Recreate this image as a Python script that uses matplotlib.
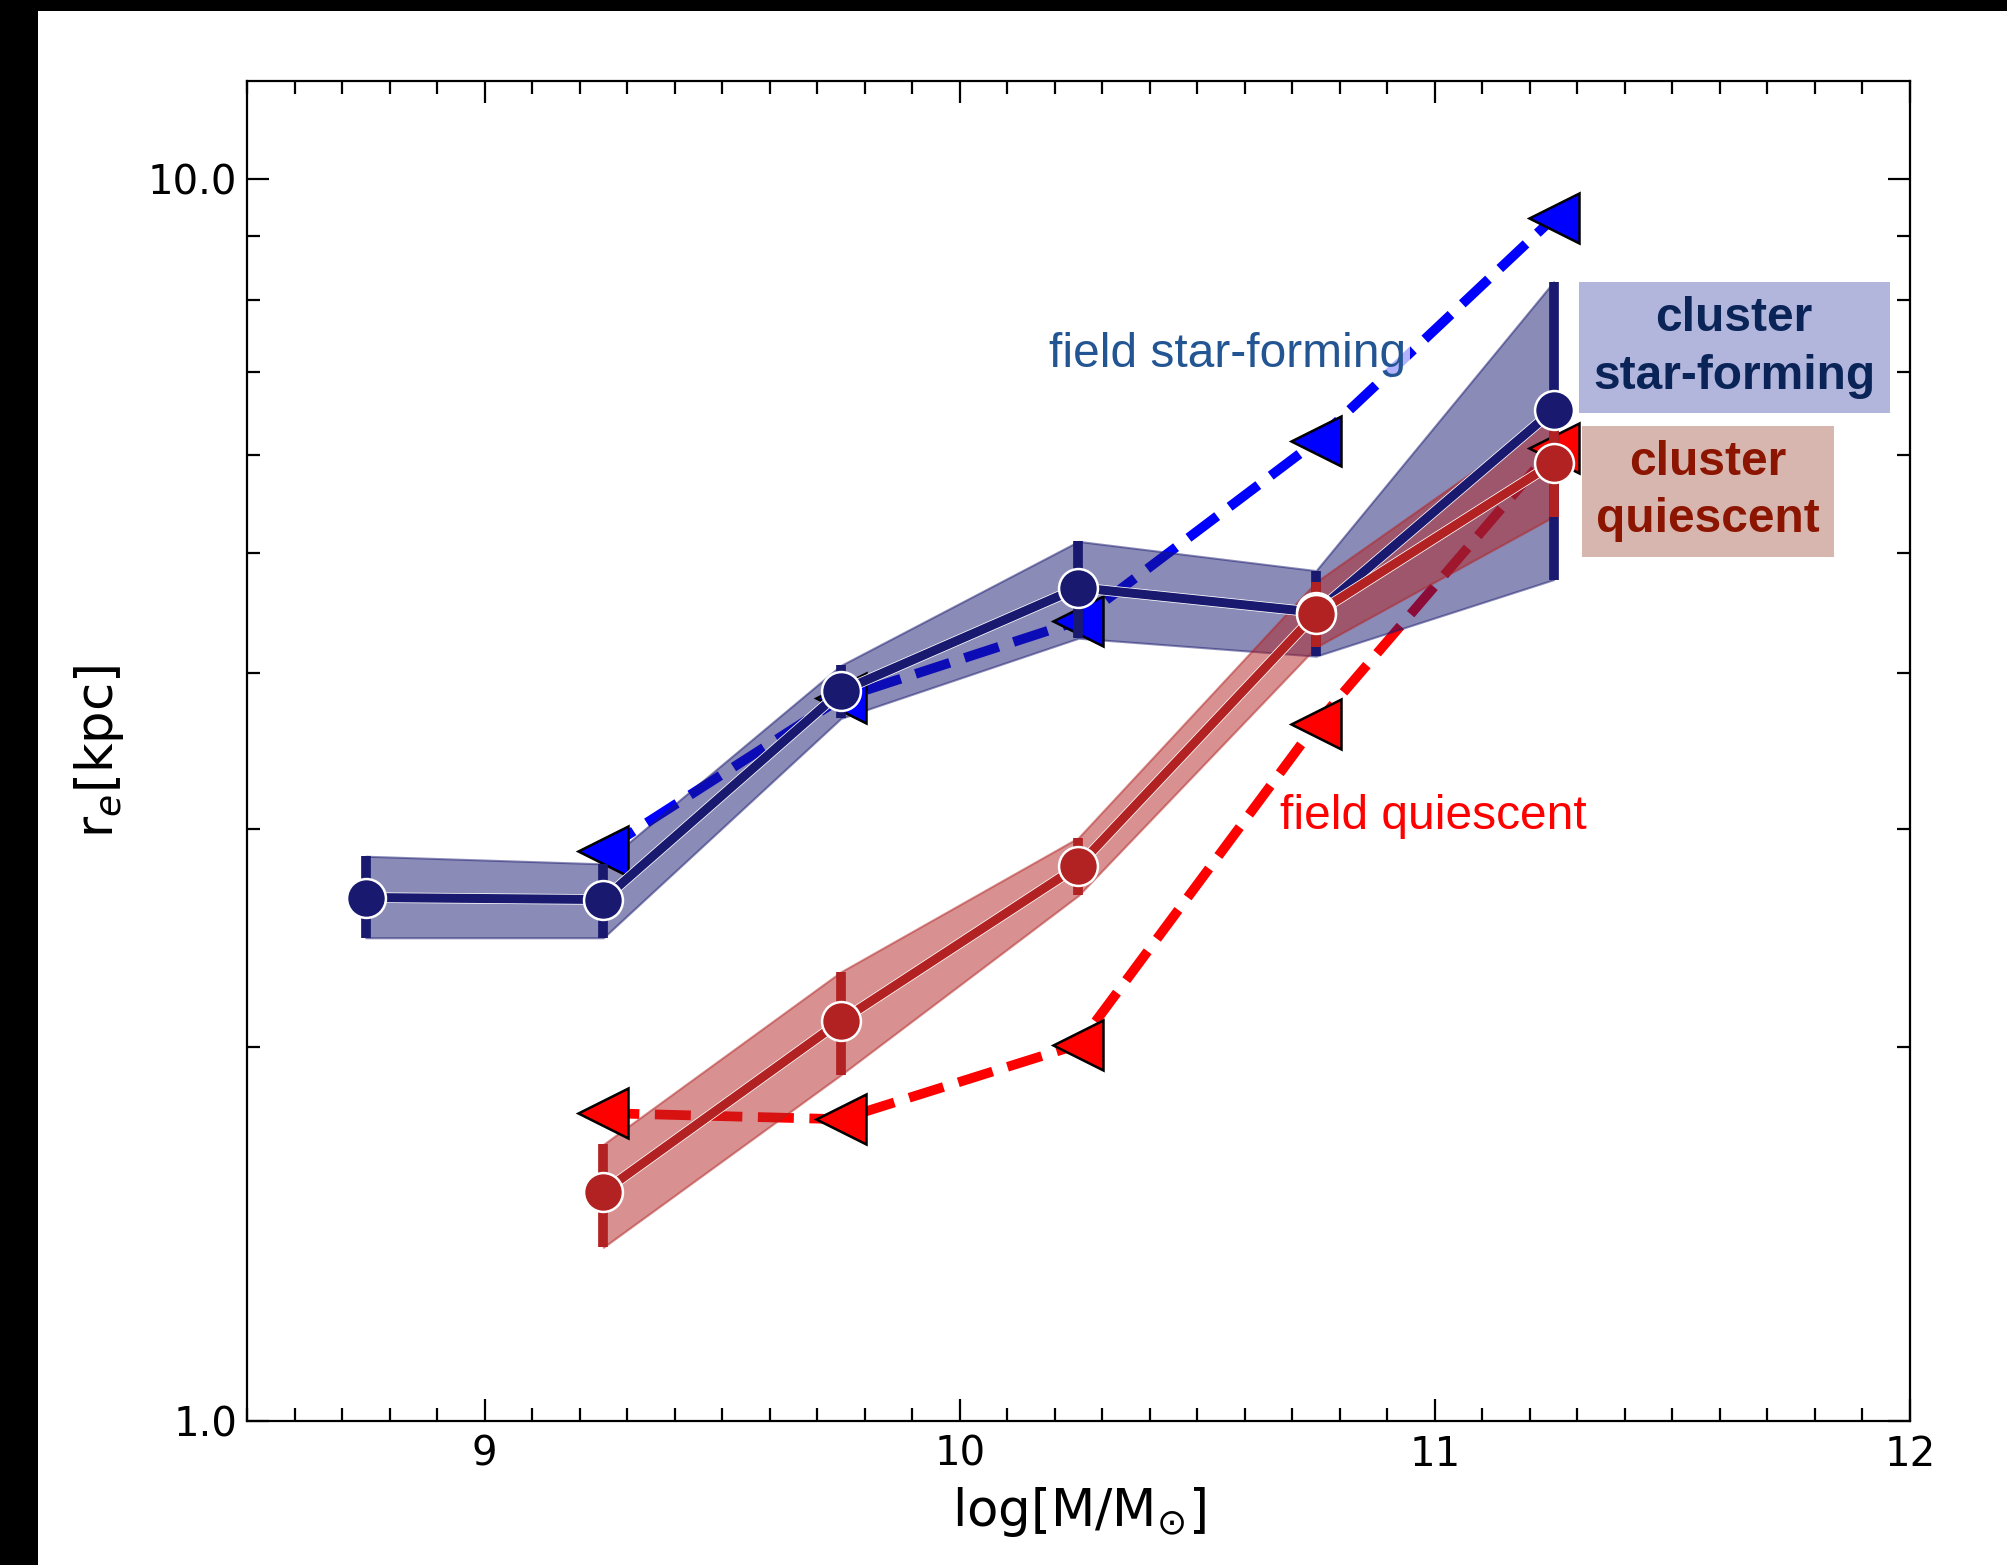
import matplotlib
matplotlib.use('Agg')
import matplotlib.pyplot as plt
import matplotlib.patheffects as pe
from matplotlib.patches import Rectangle
from matplotlib.ticker import LogLocator, NullFormatter, MultipleLocator

# cluster star-forming: median size and 1-sigma range per mass bin
mass_cl_sf = [8.75, 9.25, 9.75, 10.25, 10.75, 11.25]
re_cl_sf = [2.64, 2.63, 3.87, 4.69, 4.48, 6.52]
re_cl_sf_lo = [2.45, 2.45, 3.68, 4.27, 4.13, 4.76]
re_cl_sf_hi = [2.85, 2.81, 4.06, 5.11, 4.84, 8.27]

# cluster quiescent
mass_cl_q = [9.25, 9.75, 10.25, 10.75, 11.25]
re_cl_q = [1.53, 2.10, 2.80, 4.47, 5.91]
re_cl_q_lo = [1.38, 1.90, 2.65, 4.20, 5.35]
re_cl_q_hi = [1.67, 2.30, 2.95, 4.74, 6.46]

# field relations
mass_field = [9.25, 9.75, 10.25, 10.75, 11.25]
re_field_sf = [2.88, 3.82, 4.41, 6.15, 9.31]
re_field_q = [1.77, 1.75, 2.01, 3.64, 6.08]

xticks = [9, 10, 11, 12]
yticks = [1, 10]
yticklabels = ['1.0', '10.0']

navy = 'midnightblue'
dred = 'firebrick'

W, H = 2008, 1565
fig = plt.figure(figsize=(W / 100, H / 100), dpi=100)
fig.patch.set_facecolor('white')
# dark frame strips along the left and top edges
fig.patches.append(Rectangle((0, 0), 38 / W, 1, transform=fig.transFigure,
                             facecolor='black', edgecolor='none', zorder=0))
fig.patches.append(Rectangle((0, 1 - 11 / H), 1, 11 / H, transform=fig.transFigure,
                             facecolor='black', edgecolor='none', zorder=0))

ax = fig.add_axes([247 / W, 1 - 1421 / H, (1910 - 247) / W, (1421 - 81) / H])
ax.set_yscale('log')
ax.set_xlim(8.5, 12)
ax.set_ylim(1, 12)

stroke = [pe.Stroke(linewidth=7.6, foreground='white'), pe.Normal()]

# field relations (dashed lines sit under the cluster bands)
ax.plot(mass_field, re_field_sf, '--', color='blue', lw=7, zorder=1)
ax.plot(mass_field, re_field_q, '--', color='red', lw=7, zorder=1)

ax.fill_between(mass_cl_sf, re_cl_sf_lo, re_cl_sf_hi, color=navy, alpha=0.5, lw=1.5, zorder=2)
ax.fill_between(mass_cl_q, re_cl_q_lo, re_cl_q_hi, color=dred, alpha=0.5, lw=1.5, zorder=2.1)

ax.plot(mass_field, re_field_sf, '<', ms=36, mfc='blue', mec='black', mew=1.8, zorder=3)
ax.plot(mass_field, re_field_q, '<', ms=36, mfc='red', mec='black', mew=1.8, zorder=3)

# cluster relations
ax.vlines(mass_cl_sf, re_cl_sf_lo, re_cl_sf_hi, color=navy, lw=7, zorder=4)
ax.plot(mass_cl_sf, re_cl_sf, '-', color=navy, lw=6.5, zorder=4, path_effects=stroke)
ax.vlines(mass_cl_q, re_cl_q_lo, re_cl_q_hi, color=dred, lw=7, zorder=5)
ax.plot(mass_cl_q, re_cl_q, '-', color=dred, lw=6.5, zorder=5, path_effects=stroke)
ax.plot(mass_cl_sf, re_cl_sf, 'o', ms=28, mfc=navy, mec='white', mew=1.8, zorder=6)
ax.plot(mass_cl_q, re_cl_q, 'o', ms=28, mfc=dred, mec='white', mew=1.8, zorder=6.1)

lab_font = 'Liberation Sans'
ax.text(10.187, 7.22, 'field star-forming', fontsize=34.5, family=lab_font, color='#245593',
        ha='left', va='center', zorder=7,
        bbox=dict(boxstyle='square,pad=0.1', fc='white', ec='none', alpha=0.7))
ax.text(10.674, 3.07, 'field quiescent', fontsize=34.5, family=lab_font, color='red',
        ha='left', va='center', zorder=7,
        bbox=dict(boxstyle='square,pad=0.1', fc='white', ec='none', alpha=0.7))
ax.text(11.63, 7.32, 'cluster\nstar-forming', fontsize=34.5, family=lab_font, fontweight='bold',
        color='#0a2458', ha='center', va='center', linespacing=1.35, zorder=8,
        bbox=dict(boxstyle='square,pad=0.3', fc='#b2b6dc', ec='none'))
ax.text(11.575, 5.61, 'cluster\nquiescent', fontsize=34.5, family=lab_font, fontweight='bold',
        color='#8b1500', ha='center', va='center', linespacing=1.35, zorder=8,
        bbox=dict(boxstyle='square,pad=0.3', fc='#d8b6b0', ec='none'))

# axes, ticks and labels
ax.set_xticks(xticks)
ax.xaxis.set_minor_locator(MultipleLocator(0.1))
ax.set_yticks(yticks)
ax.set_yticklabels(yticklabels)
ax.yaxis.set_minor_locator(LogLocator(base=10, subs=[2, 3, 4, 5, 6, 7, 8, 9]))
ax.yaxis.set_minor_formatter(NullFormatter())
ax.tick_params(which='both', direction='in', top=True, right=True, width=1.6, labelsize=29)
ax.tick_params(which='major', length=16)
ax.tick_params(which='minor', length=9.5)
ax.tick_params(axis='x', which='major', pad=10)
ax.tick_params(axis='y', which='major', pad=7)
for sp in ax.spines.values():
    sp.set_linewidth(1.6)

ax.set_xlabel(r'log[M/M$_{\odot}$]', fontsize=37, labelpad=7)
ax.set_ylabel(r'r$_e$[kpc]', fontsize=37, labelpad=16)

fig.savefig('out.png', dpi=100)
